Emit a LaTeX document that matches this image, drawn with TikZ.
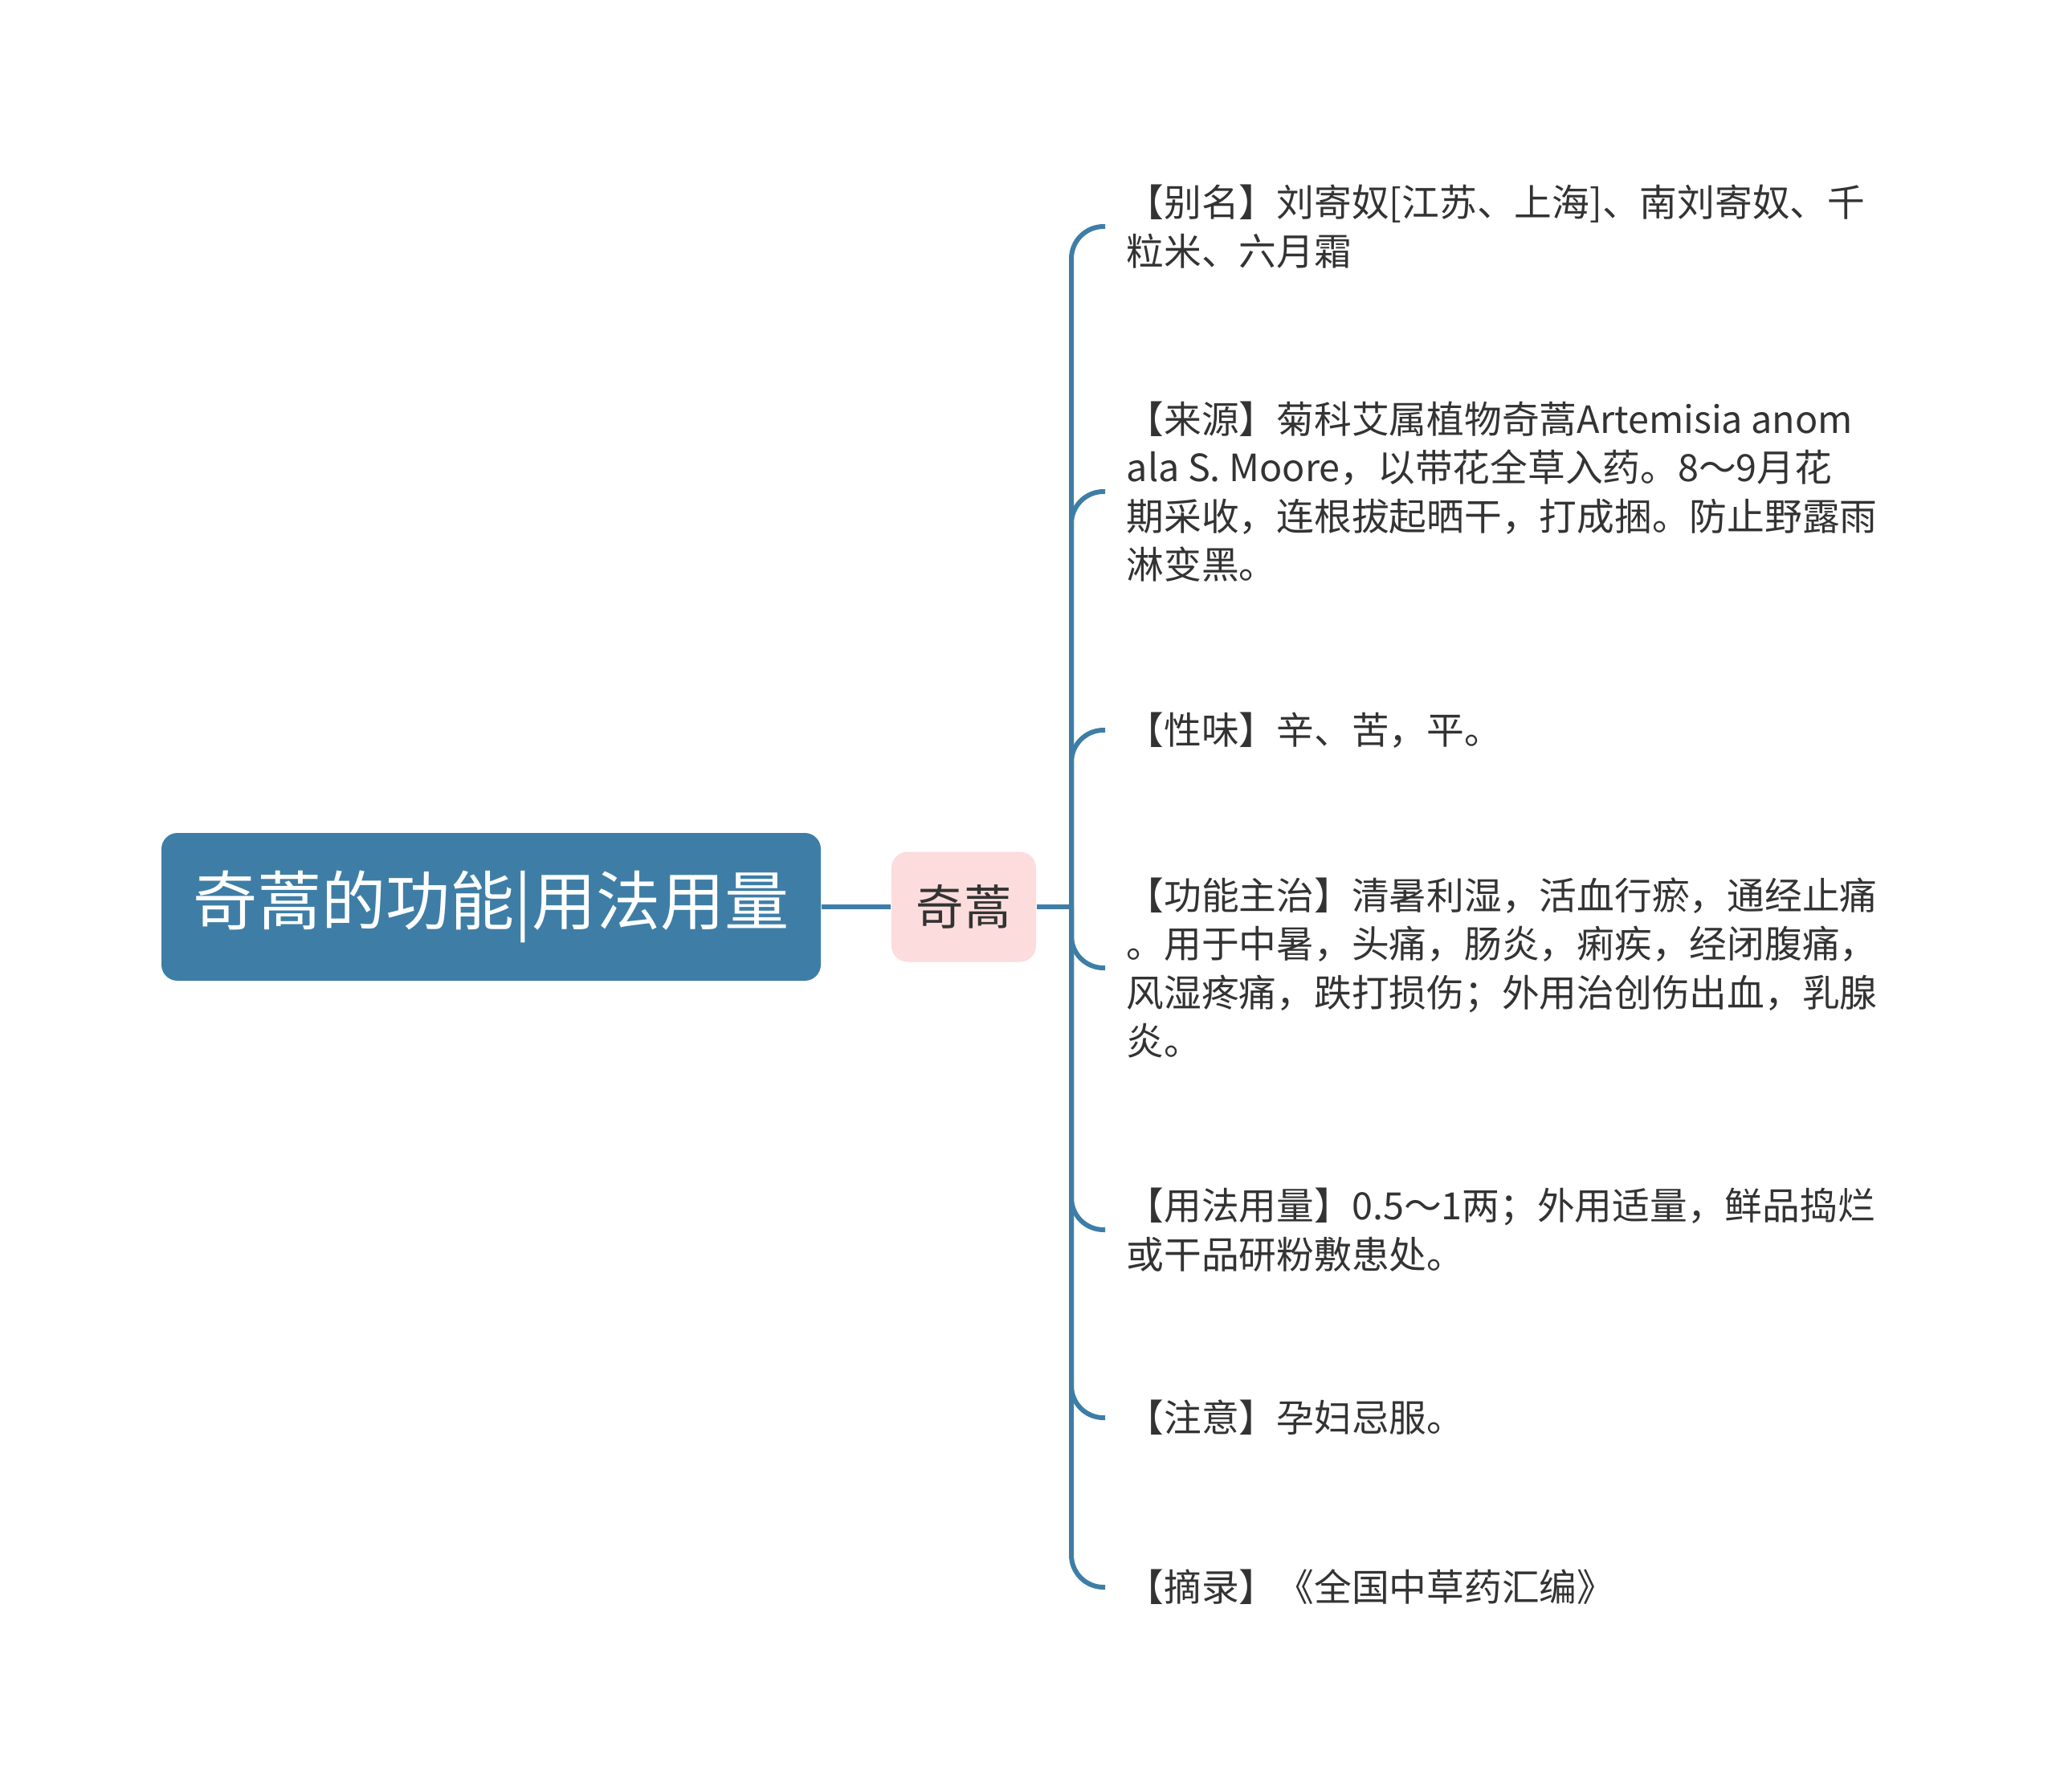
\documentclass[tikz,border=0pt]{standalone}
\usepackage{fontspec}
\newfontfamily\cjk{Noto Sans CJK SC}
\usepackage{tikz}
\definecolor{rootblue}{HTML}{3E7EA6}
\definecolor{subpink}{HTML}{FCDCDC}
\definecolor{textgray}{HTML}{333333}
\tikzset{
  rootnode/.style={rectangle,rounded corners=0.2cm,fill=rootblue,text=white,inner sep=0pt,minimum width=8.21cm,minimum height=1.84cm,font=\cjk\fontsize{22.8pt}{27pt}\selectfont},
  subnode/.style={rectangle,rounded corners=0.2cm,fill=subpink,text=textgray,inner sep=0pt,minimum width=1.80cm,minimum height=1.37cm,font=\cjk\fontsize{16.9pt}{20pt}\selectfont},
  leafnode/.style={anchor=west,align=left,text=textgray,inner xsep=0.26cm,inner ysep=0pt,font=\cjk\fontsize{13.3pt}{17.2pt}\selectfont},
  branch/.style={draw=rootblue,line width=1.7pt,rounded corners=0.4cm}
}

\begin{document}
\begin{tikzpicture}
\useasboundingbox (0,0) rectangle (25.6,-22.31);
\node[rootnode] (root) at (6.115,-11.29) {奇蒿的功能|用法用量};
\node[subnode] (qihao) at (12.0,-11.29) {奇蒿};
\coordinate (trunk) at (13.34,-11.29);
\node[leafnode] (bieming) at (13.76,-2.82) {【别名】刘寄奴[江苏、上海]、南刘寄奴、千\\粒米、六月霜};
\node[leafnode] (laiyuan) at (13.76,-6.12) {【来源】菊科艾属植物奇蒿Artemisia anom\\ala S. Moore，以带花全草入药。8～9月花\\期采收，连根拔起晒干，打成捆。防止野露雨\\淋变黑。};
\node[leafnode] (xingwei) at (13.76,-9.09) {【性味】辛、苦，平。};
\node[leafnode] (gongneng) at (13.76,-12.05) {【功能主治】清暑利湿，活血行瘀，通经止痛\\。用于中暑，头痛，肠炎，痢疾，经闭腹痛，\\风湿疼痛，跌打损伤；外用治创伤出血，乳腺\\炎。};
\node[leafnode] (yongfa) at (13.76,-15.31) {【用法用量】0.5～1两；外用适量，鲜品捣烂\\或干品研粉敷患处。};
\node[leafnode] (zhuyi) at (13.76,-17.65) {【注意】孕妇忌服。};
\node[leafnode] (zhailu) at (13.76,-19.76) {【摘录】《全国中草药汇编》};
\path [draw,branch] (root) edge (qihao);
\path [draw,branch] (qihao) -- (trunk);
\path [draw,branch] (trunk) |- (bieming.west);
\path [draw,branch] (trunk) |- (laiyuan.west);
\path [draw,branch] (trunk) |- (xingwei.west);
\path [draw,branch] (trunk) |- (gongneng.west);
\path [draw,branch] (trunk) |- (yongfa.west);
\path [draw,branch] (trunk) |- (zhuyi.west);
\path [draw,branch] (trunk) |- (zhailu.west);
\end{tikzpicture}
\end{document}
